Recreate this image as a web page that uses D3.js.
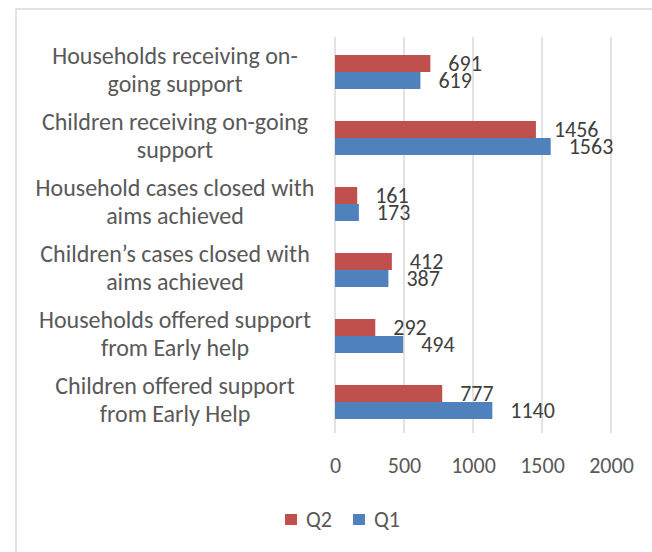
<!DOCTYPE html>
<html>
<head>
<meta charset="utf-8">
<script src="https://cdn.jsdelivr.net/npm/d3@7"></script>
<style>
  body { margin: 0; background: #fff; }
  svg { display: block; }
  text { font-family: Carlito, Lato, "Open Sans", sans-serif; }
</style>
</head>
<body>
<svg id="chart" width="652" height="552"></svg>
<script>
// Category names, with the line breaks used for the wrapped axis labels
const categories = [
  "Households receiving on-\ngoing support",
  "Children receiving on-going\nsupport",
  "Household cases closed with\naims achieved",
  "Children’s cases closed with\naims achieved",
  "Households offered support\nfrom Early help",
  "Children offered support\nfrom Early Help"
];
const seriesNames = ["Q2", "Q1"];
const q2Values = [691, 1456, 161, 412, 292, 777];
const q1Values = [619, 1563, 173, 387, 494, 1140];
const tickValues = [0, 500, 1000, 1500, 2000];
const seriesColors = ["#C0504D", "#4F81BD"];

const values = { Q2: q2Values, Q1: q1Values };
const rows = categories.map((c, i) => ({
  category: c,
  items: seriesNames.map(s => ({ series: s, value: values[s][i] }))
}));

const svg = d3.select("#chart");
const plot = { left: 335, right: 611, top: 37, bottom: 433 };
const labelSize = 24;
const numberSize = 22;

// Outer chart frame
svg.append("rect")
  .attr("x", 16).attr("y", 9)
  .attr("width", 700).attr("height", 600)
  .attr("fill", "#fff")
  .attr("stroke", "#d9d9d9").attr("stroke-width", 1.5);

const x = d3.scaleLinear().domain([0, 2000]).range([plot.left, plot.right]);
const y = d3.scaleBand().domain(categories)
  .range([plot.top + 2, plot.bottom + 2])
  .paddingInner(0.485).paddingOuter(0.2425);
const ySub = d3.scaleBand().domain(seriesNames).range([0, y.bandwidth()]);
const color = d3.scaleOrdinal().domain(seriesNames).range(seriesColors);

// Vertical gridlines
svg.append("g")
  .selectAll("line")
  .data(tickValues)
  .join("line")
  .attr("x1", d => x(d)).attr("x2", d => x(d))
  .attr("y1", plot.top).attr("y2", plot.bottom)
  .attr("stroke", "#d9d9d9").attr("stroke-width", 1.5);

// Value axis labels
const xAxis = svg.append("g")
  .attr("transform", `translate(0,${plot.bottom})`)
  .call(d3.axisBottom(x).tickValues(tickValues).tickSize(0).tickFormat(d3.format("d")));
xAxis.select(".domain").remove();
xAxis.selectAll("text")
  .attr("y", 40).attr("dy", 0)
  .attr("fill", "#595959")
  .style("font-size", numberSize + "px")
  .style("font-family", null);

// Bars
const groups = svg.append("g")
  .selectAll("g")
  .data(rows)
  .join("g")
  .attr("transform", d => `translate(0,${y(d.category)})`);

groups.selectAll("rect")
  .data(d => d.items)
  .join("rect")
  .attr("x", x(0))
  .attr("y", d => ySub(d.series))
  .attr("width", d => x(d.value) - x(0))
  .attr("height", ySub.bandwidth())
  .attr("fill", d => color(d.series));

// Data labels
groups.selectAll("text.value")
  .data(d => d.items)
  .join("text")
  .attr("class", "value")
  .attr("x", d => x(d.value) + 18)
  .attr("y", d => ySub(d.series) + ySub.bandwidth() / 2)
  .attr("dy", "0.36em")
  .attr("fill", "#404040")
  .style("font-size", numberSize + "px")
  .text(d => d.value);

// Category labels (two lines each)
const catLabels = svg.append("g")
  .selectAll("text")
  .data(categories)
  .join("text")
  .attr("text-anchor", "middle")
  .attr("fill", "#595959")
  .style("font-size", labelSize + "px");

catLabels.each(function (c) {
  const cy = y(c) + y.bandwidth() / 2;
  const lines = c.split("\n");
  d3.select(this).selectAll("tspan")
    .data(lines)
    .join("tspan")
    .attr("x", 175)
    .attr("y", (d, i) => cy - 8 + i * 28)
    .text(d => d);
});

// Legend
const legend = svg.append("g")
  .selectAll("g")
  .data(seriesNames)
  .join("g")
  .attr("transform", (d, i) => `translate(${285 + i * 68},514)`);
legend.append("rect")
  .attr("width", 12).attr("height", 11)
  .attr("fill", d => color(d));
legend.append("text")
  .attr("x", 21).attr("y", 13)
  .attr("fill", "#595959")
  .style("font-size", numberSize + "px")
  .text(d => d);
</script>
</body>
</html>
